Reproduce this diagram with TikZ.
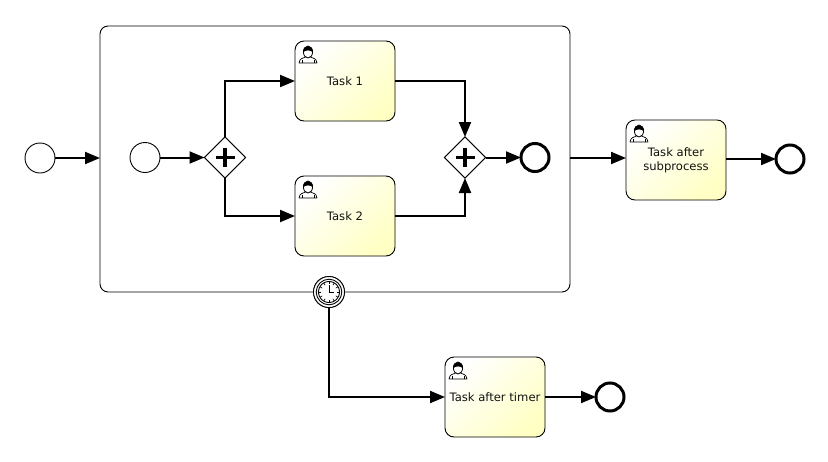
\documentclass[tikz,border=0pt]{standalone}
\usepackage{fontspec}
\setmainfont{DejaVu Sans}
\usetikzlibrary{arrows.meta,shapes.geometric}
\definecolor{taskyellow}{HTML}{FFFFC4}
\definecolor{inkline}{HTML}{111111}
\tikzset{
  x=1pt,y=-1pt,
  every node/.style={inner sep=0pt,outer sep=0pt,text=inkline},
  flow/.style={draw=black,line width=2pt,-{Triangle[length=15pt,width=12pt]}},
  startev/.style={circle,draw=black,line width=0.9pt,fill=white,minimum size=30pt},
  endev/.style={circle,draw=black,line width=3pt,fill=white,minimum size=28pt},
  gateway/.style={diamond,aspect=1,draw=black,line width=0.9pt,fill=white,minimum width=41pt,minimum height=41pt},
  taskbox/.style={rectangle,rounded corners=9pt,draw=black,line width=0.9pt,minimum width=100pt,minimum height=80pt,align=center,
    font=\fontsize{11.6pt}{14pt}\selectfont,top color=white,bottom color=taskyellow,shading angle=45},
  subproc/.style={rectangle,rounded corners=8pt,draw=black,line width=0.9pt,fill=white,minimum width=470pt,minimum height=266pt},
  timerev/.style={circle,draw=black,line width=0.9pt,fill=white,minimum size=31pt},
  usericon/.pic={
    \draw[black,line width=0.7pt,fill=white,line join=round] (-9,10) .. controls (-8.5,5.5) and (-5,5) .. (-2.5,4) -- (2.5,4) .. controls (5,5) and (8.5,5.5) .. (9,10) -- cycle;
    \draw[black,line width=0.6pt] (-6,7) -- (-6,10) (6,7) -- (6,10);
    \fill[white,draw=black,line width=0.8pt] (0,-1) ellipse (4.6pt and 6pt);
    \fill[black] (-5,-0.2) .. controls (-5.6,-9) and (5.6,-9) .. (5,-0.2) .. controls (4.2,-3.4) and (-4.2,-3.4) .. (-5,-0.2) -- cycle;
  },
  plusmark/.pic={\draw[black,line width=3.4pt] (-9.5,0) -- (9.5,0) (0,-9.5) -- (0,9.5);}
}
\begin{document}
\begin{tikzpicture}
\path[fill=white,use as bounding box] (0,0) rectangle (828,461);
% nodes
\node[subproc] (sub) at (335,159) {};
\node[startev] (start1) at (40,158) {};
\node[startev] (start2) at (145,157.5) {};
\node[gateway] (gw1) at (225,157.5) {};
\node[gateway] (gw2) at (465,157.5) {};
\node[taskbox] (task1) at (345,81) {Task 1};
\node[taskbox] (task2) at (345,216) {Task 2};
\node[endev] (end1) at (535,157.5) {};
\node[taskbox] (task3) at (676,160) {Task after\\subprocess};
\node[endev] (end2) at (790,159) {};
\node[timerev] (timer) at (329,292) {};
\node[taskbox] (task4) at (495,397) {Task after timer};
\node[endev] (end3) at (610,397) {};
% connectors
\draw[flow] (start1) -- (sub.west |- start1);
\draw[flow] (start2) -- (gw1);
\draw[flow] (gw1) |- (task1.west);
\draw[flow] (gw1) |- (task2.west);
\draw[flow] (task1.east) -| (gw2.north);
\draw[flow] (task2.east) -| (gw2.south);
\draw[flow] (gw2) -- (end1);
\draw[flow] (sub.east |- start1) -- (task3.west |- start1);
\draw[flow] (task3.east |- end2) -- (end2);
\draw[flow] (timer) |- (task4.west);
\draw[flow] (task4) -- (end3);
% redraw nodes hit by connectors started at centres
\node[gateway] at (gw1) {};
\node[gateway] at (gw2) {};
\node[timerev] at (timer) {};
% markers
\pic at (gw1) {plusmark};
\pic at (gw2) {plusmark};
\pic at ([xshift=13pt,yshift=-12pt]task1.north west) {usericon};
\pic at ([xshift=13pt,yshift=-12pt]task2.north west) {usericon};
\pic at ([xshift=13pt,yshift=-12pt]task3.north west) {usericon};
\pic at ([xshift=13pt,yshift=-12pt]task4.north west) {usericon};
% clock
\draw[black,line width=0.9pt] (timer) circle (12.8pt);
\draw[black,line width=0.9pt] (timer) circle (10.6pt);
\foreach \a in {0,30,...,330}
  \draw[black,line width=0.6pt] ([shift={(\a:7.8pt)}]timer.center) -- ([shift={(\a:10.4pt)}]timer.center);
\draw[black,line width=0.8pt] (timer.center) -- ([yshift=7pt]timer.center);
\draw[black,line width=0.8pt] (timer.center) -- ([xshift=5pt]timer.center);
\end{tikzpicture}
\end{document}
